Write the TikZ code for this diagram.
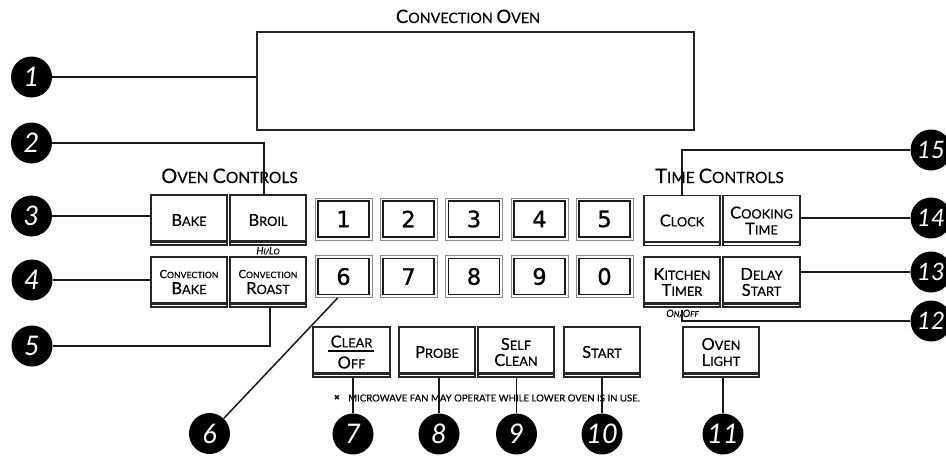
\documentclass[tikz,border=0pt]{standalone}
\usepackage{fontspec}
\setmainfont{Lato}[FakeBold=0.35]
\newfontfamily\digitfont{DejaVu Sans}[FakeBold=1]
\newfontfamily\fanfont{DejaVu Sans}
\newfontfamily\badgefont{Lato}
\usetikzlibrary{calc}
\newcommand\K[1]{{\Kfont #1}}
\newcommand\Kfont{}
\begin{document}
\begin{tikzpicture}[x=1pt,y=-1pt,
  conn/.style={line width=1.5pt, draw=black!90},
  ovbtn/.style={draw=black!85, line width=1.8pt, fill=white, inner sep=0pt, align=center,
    minimum width=76pt, minimum height=50pt, text=black,
    font={\def\Kfont{\fontsize{16.5}{16}\selectfont}\fontsize{12.8}{16}\selectfont},
    path picture={\draw[line width=2.6pt, black!85]
      ([yshift=3.6pt]path picture bounding box.south west) --
      ([yshift=3.6pt]path picture bounding box.south east);}},
  numbox/.style={draw=black!45, line width=0.8pt, fill=white, inner sep=0pt,
    minimum width=57pt, minimum height=42pt, text=black,
    font=\digitfont\fontsize{22.5}{22.5}\selectfont,
    path picture={\draw[line width=1.6pt, black!90]
      ([shift={(3pt,-3pt)}]path picture bounding box.north west) rectangle
      ([shift={(-3pt,3pt)}]path picture bounding box.south east);}},
  badge/.style={circle, fill=black, minimum size=41pt, inner sep=0pt, text=white,
    font=\badgefont\itshape\fontsize{27}{27}\selectfont},
  rbadge/.style={badge, font=\badgefont\itshape\fontsize{24}{24}\selectfont},
  header/.style={anchor=base, inner sep=0pt, text=black,
    font={\def\Kfont{\fontsize{20}{20}\selectfont}\fontsize{15.5}{18}\selectfont}},
  titlestyle/.style={anchor=base, inner sep=0pt, text=black,
    font={\def\Kfont{\fontsize{18.5}{18}\selectfont}\fontsize{14.3}{16}\selectfont}},
  tinyit/.style={inner sep=0pt, text=black,
    font={\def\Kfont{\fontsize{10}{10}\selectfont}\itshape\fontsize{8}{9}\selectfont}},
  notestyle/.style={anchor=west, inner sep=0pt, text=black,
    font=\fontsize{9.6}{10}\selectfont}
]
\useasboundingbox (0,0) rectangle (946,456);

% title and display
\node[titlestyle] (title) at (468,23) {\K{C}ONVECTION \K{O}VEN};
\node[draw=black!85, line width=1.8pt, minimum width=437pt, minimum height=98pt, inner sep=0pt] (display) at (475.5,81) {};

% headers
\node[header] (ovenctl) at (229.5,183) {\K{O}VEN \K{C}ONTROLS};
\node[header] (timectl) at (719.5,183) {\K{T}IME \K{C}ONTROLS};

% oven control buttons
\node[ovbtn] (bake) at (189,220) {\K{B}AKE};
\node[ovbtn] (broil) at (268,220) {\K{B}ROIL};
\node[tinyit] (hilo) at (268,251) {\K{H}I/\K{L}O};
\node[ovbtn] (convbake) at (189,282) {{\fontsize{8.7}{10}\selectfont{\fontsize{11.2}{10}\selectfont C}ONVECTION}\\\K{B}AKE};
\node[ovbtn] (convroast) at (268,282) {{\fontsize{8.7}{10}\selectfont{\fontsize{11.2}{10}\selectfont C}ONVECTION}\\\K{R}OAST};

% number pad
\node[numbox] (n1) at (343.5,219) {1};
\node[numbox] (n2) at (408.5,219) {2};
\node[numbox] (n3) at (474,219) {3};
\node[numbox] (n4) at (539.5,219) {4};
\node[numbox] (n5) at (604.5,219) {5};
\node[numbox] (n6) at (343.5,276.5) {6};
\node[numbox] (n7) at (408.5,276.5) {7};
\node[numbox] (n8) at (474,276.5) {8};
\node[numbox] (n9) at (539.5,276.5) {9};
\node[numbox] (n0) at (604.5,276.5) {0};

% time controls
\node[ovbtn] (clock) at (682,220.5) {\K{C}LOCK};
\node[ovbtn, minimum width=77pt] (cooking) at (761.5,220.5) {\K{C}OOKING\\\K{T}IME};
\node[ovbtn] (kitchen) at (682,282) {\K{K}ITCHEN\\\K{T}IMER};
\node[ovbtn, minimum width=77pt] (delay) at (761.5,282) {\K{D}ELAY\\\K{S}TART};
\node[tinyit] (onoff) at (682.5,313.5) {\K{O}N/\K{O}FF};

% bottom row
\node[ovbtn, minimum width=77pt] (clear) at (351.5,352) {\K{C}LEAR\\[5pt]\K{O}FF};
\draw[line width=1.3pt, black] (328,351) -- (374,351);
\node[ovbtn] (probe) at (437,352) {\K{P}ROBE};
\node[ovbtn] (selfclean) at (516,352) {\K{S}ELF\\\K{C}LEAN};
\node[ovbtn] (start) at (602,352) {\K{S}TART};
\node[ovbtn] (ovenlight) at (721,352) {\K{O}VEN\\\K{L}IGHT};

% note
\node[inner sep=0pt, text=black, font=\fanfont\fontsize{7.5}{7.5}\selectfont] (fan) at (337,398) {✖};
\node[notestyle] (note) at (348,398) {MICROWAVE FAN MAY OPERATE WHILE LOWER OVEN IS IN USE.};

% badges
\node[badge] (b1) at (31.5,77) {1};
\node[badge] (b2) at (31.5,143) {2};
\node[badge] (b3) at (31.5,216) {3};
\node[badge] (b4) at (32,280) {4};
\node[badge] (b5) at (32,346) {5};
\node[badge] (b6) at (209.5,433.5) {6};
\node[badge] (b7) at (353,434) {7};
\node[badge] (b8) at (439,434) {8};
\node[badge] (b9) at (516.5,434) {9};
\node[badge] (b10) at (602,434) {10};
\node[badge] (b11) at (723,434) {11};
\node[rbadge] (b12) at (931,321) {12};
\node[rbadge] (b13) at (931,272) {13};
\node[rbadge] (b14) at (931,218) {14};
\node[rbadge] (b15) at (931,150) {15};

% connectors
\coordinate (k2) at (264,143);
\coordinate (k5) at (270,346);
\coordinate (k12) at (682,321);
\coordinate (k12end) at (682,310);
\draw[conn] (b1.east) -- (b1.east -| display.west);
\draw[conn] (b2.east) -- (k2) -- (k2 |- broil.north);
\draw[conn] (b3.east) -- (b3.east -| bake.west);
\draw[conn] (b4.east) -- (b4.east -| convbake.west);
\draw[conn] (b5.east) -- (k5) -- (k5 |- convroast.south);
\draw[conn] (b6) -- ($(n6.south west)!0.4!(n6.south east)$);
\draw[conn] (b7.north) -- (b7.north |- clear.south);
\draw[conn] (b8.north) -- (b8.north |- probe.south);
\draw[conn] (b9.north) -- (b9.north |- selfclean.south);
\draw[conn] (b10.north) -- (b10.north |- start.south);
\draw[conn] (b11.north) -- (b11.north |- ovenlight.south);
\draw[conn] (b12.west) -- (k12) -- (k12end);
\draw[conn] (b13.west) -- (b13.west -| delay.east);
\draw[conn] (b14.west) -- (b14.west -| cooking.east);
\draw[conn] (b15.west) -- (b15.west -| clock.north) -- (clock.north);
\end{tikzpicture}
\end{document}
